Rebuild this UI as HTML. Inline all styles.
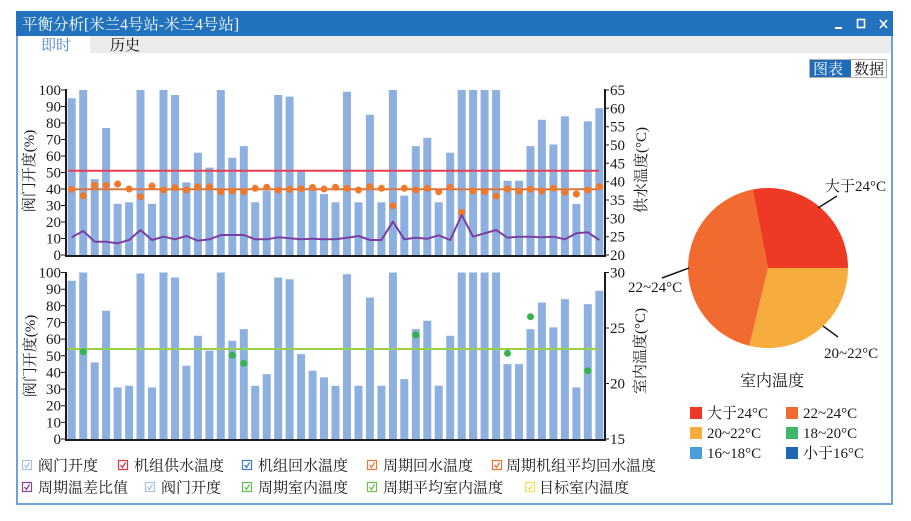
<!DOCTYPE html>
<html><head><meta charset="utf-8"><style>
html,body{margin:0;padding:0;background:#fff;}
svg{display:block;}
text{font-family:"Liberation Serif","Noto Serif CJK SC",serif;}
</style></head><body>
<svg width="911" height="521" viewBox="0 0 911 521" xmlns="http://www.w3.org/2000/svg">
<rect x="0" y="0" width="911" height="521" fill="#fff"/>
<!-- window frame -->
<rect x="17" y="12" width="875" height="492" fill="#fff" stroke="#6ea2d8" stroke-width="2"/>
<rect x="16" y="11" width="877" height="25" fill="#2372be"/>
<text x="22" y="29.5" font-size="15.5" fill="#fff">平衡分析[米兰4号站-米兰4号站]</text>
<rect x="835" y="27" width="7" height="2" fill="#fff"/>
<rect x="857.5" y="19.5" width="7" height="8" fill="none" stroke="#fff" stroke-width="1.6"/>
<path d="M880 20 L887 28 M887 20 L880 28" stroke="#fff" stroke-width="1.6"/>
<!-- tabs -->
<rect x="90" y="36" width="801" height="17" fill="#ebebeb"/>
<text x="41" y="50" font-size="15" fill="#4a86c8">即时</text>
<text x="110" y="50" font-size="15" fill="#111">历史</text>
<!-- chart/data toggle -->
<rect x="809.5" y="59.5" width="77" height="18" fill="#fff" stroke="#b0b0b0" stroke-width="1"/>
<rect x="810" y="60" width="41" height="17" fill="#1f6db8"/>
<text x="813" y="74" font-size="15" fill="#fff">图表</text>
<text x="854" y="74" font-size="15" fill="#111">数据</text>

<!-- TOP CHART bars -->
<path fill="#8db0e1" d="M67.7 98.3h8V255h-8zM79.2 90h8V255h-8zM90.7 179.1h8V255h-8zM102.1 128h8V255h-8zM113.6 203.9h8V255h-8zM125.1 202.2h8V255h-8zM136.5 90h8V255h-8zM148 203.9h8V255h-8zM159.5 90h8V255h-8zM171 95h8V255h-8zM182.4 182.4h8V255h-8zM193.9 152.7h8V255h-8zM205.4 167.6h8V255h-8zM216.8 90h8V255h-8zM228.3 157.7h8V255h-8zM239.8 146.1h8V255h-8zM251.2 202.2h8V255h-8zM262.7 190.7h8V255h-8zM274.2 95h8V255h-8zM285.6 96.6h8V255h-8zM297.1 170.9h8V255h-8zM308.6 187.4h8V255h-8zM320 194h8V255h-8zM331.5 202.2h8V255h-8zM343 91.7h8V255h-8zM354.5 202.2h8V255h-8zM365.9 114.8h8V255h-8zM377.4 202.2h8V255h-8zM388.9 90h8V255h-8zM400.3 195.6h8V255h-8zM411.8 146.1h8V255h-8zM423.3 137.9h8V255h-8zM434.7 202.2h8V255h-8zM446.2 152.7h8V255h-8zM457.7 90h8V255h-8zM469.1 90h8V255h-8zM480.6 90h8V255h-8zM492.1 90h8V255h-8zM503.5 180.8h8V255h-8zM515 180.8h8V255h-8zM526.5 146.1h8V255h-8zM537.9 119.7h8V255h-8zM549.4 144.5h8V255h-8zM560.9 116.4h8V255h-8zM572.4 203.9h8V255h-8zM583.8 121.4h8V255h-8zM595.3 108.2h8V255h-8z"/>
<!-- red supply line -->
<line x1="68" y1="170.7" x2="599" y2="170.7" stroke="#e83f52" stroke-width="2"/>
<!-- orange avg return line -->
<line x1="68" y1="189.3" x2="599" y2="189.3" stroke="#e0763a" stroke-width="2"/>
<!-- orange dots -->
<g fill="#f07828">
<circle cx="71.7" cy="189.3" r="3.5"/><circle cx="83.2" cy="195.7" r="3.5"/><circle cx="94.7" cy="185.3" r="3.5"/><circle cx="106.1" cy="185.3" r="3.5"/><circle cx="117.6" cy="184" r="3.5"/><circle cx="129.1" cy="189" r="3.5"/><circle cx="140.5" cy="196.7" r="3.5"/><circle cx="152" cy="186" r="3.5"/><circle cx="163.5" cy="190" r="3.5"/><circle cx="175" cy="187.7" r="3.5"/>
<circle cx="186.4" cy="190" r="3.5"/><circle cx="197.9" cy="186.7" r="3.5"/><circle cx="209.4" cy="186.7" r="3.5"/><circle cx="220.8" cy="191.7" r="3.5"/><circle cx="232.3" cy="191" r="3.5"/><circle cx="243.8" cy="191.7" r="3.5"/><circle cx="255.2" cy="188.3" r="3.5"/><circle cx="266.7" cy="187.3" r="3.5"/><circle cx="278.2" cy="190" r="3.5"/><circle cx="289.6" cy="189.3" r="3.5"/>
<circle cx="301.1" cy="188.7" r="3.5"/><circle cx="312.6" cy="187.5" r="3.5"/><circle cx="324" cy="189" r="3.5"/><circle cx="335.5" cy="187.3" r="3.5"/><circle cx="347" cy="188.3" r="3.5"/><circle cx="358.5" cy="190" r="3.5"/><circle cx="369.9" cy="186.7" r="3.5"/><circle cx="381.4" cy="188.3" r="3.5"/><circle cx="392.9" cy="205.7" r="3.5"/><circle cx="404.3" cy="188.3" r="3.5"/>
<circle cx="415.8" cy="190" r="3.5"/><circle cx="427.3" cy="188.3" r="3.5"/><circle cx="438.7" cy="191.7" r="3.5"/><circle cx="450.2" cy="187.3" r="3.5"/><circle cx="461.7" cy="212.3" r="3.5"/><circle cx="473.1" cy="191" r="3.5"/><circle cx="484.6" cy="191.7" r="3.5"/><circle cx="496.1" cy="196" r="3.5"/><circle cx="507.5" cy="189" r="3.5"/><circle cx="519" cy="191" r="3.5"/>
<circle cx="530.5" cy="189.3" r="3.5"/><circle cx="541.9" cy="191" r="3.5"/><circle cx="553.4" cy="188.3" r="3.5"/><circle cx="564.9" cy="192.3" r="3.5"/><circle cx="576.4" cy="194" r="3.5"/><circle cx="587.8" cy="190" r="3.5"/><circle cx="599.3" cy="186.7" r="3.5"/>
</g>
<!-- purple line -->
<polyline fill="none" stroke="#7b3fa3" stroke-width="2" stroke-linejoin="round" points="71.7,237.3 83.2,231 94.7,241.7 106.1,241.7 117.6,243.3 129.1,240 140.5,230 152,240 163.5,236.7 175,239.3 186.4,236 197.9,240.7 209.4,239.3 220.8,235 232.3,235 243.8,235 255.2,239.3 266.7,239.3 278.2,237.3 289.6,238.3 301.1,239.3 312.6,238.7 324,239.3 335.5,239.3 347,237.7 358.5,236 369.9,240 381.4,240 392.9,221.7 404.3,239.3 415.8,237.7 427.3,238.7 438.7,235.3 450.2,240 461.7,215 473.1,236.7 484.6,233.3 496.1,230 507.5,237.7 519,236.7 530.5,236.7 541.9,237.3 553.4,236.7 564.9,239.3 576.4,233.3 587.8,232.3 599.3,240"/>
<!-- top axes -->
<g stroke="#1c1c1c" stroke-width="2" fill="none">
<path d="M66 89V256H605V89"/>
<path d="M61 90h5M61 106.5h5M61 123h5M61 139.5h5M61 156h5M61 172.5h5M61 189h5M61 205.5h5M61 222h5M61 238.5h5M61 255h5" stroke-width="1"/>
<path d="M605 90h4M605 108.3h4M605 126.7h4M605 145h4M605 163.3h4M605 181.7h4M605 200h4M605 218.3h4M605 236.7h4M605 255h4" stroke-width="1"/>
</g>
<g font-size="15" fill="#1a1a1a" text-anchor="end">
<text x="61" y="95">100</text><text x="61" y="111.5">90</text><text x="61" y="128">80</text><text x="61" y="144.5">70</text><text x="61" y="161">60</text><text x="61" y="177.5">50</text><text x="61" y="194">40</text><text x="61" y="210.5">30</text><text x="61" y="227">20</text><text x="61" y="243.5">10</text><text x="61" y="260">0</text>
</g>
<g font-size="15" fill="#1a1a1a">
<text x="610" y="95">65</text><text x="610" y="113.3">60</text><text x="610" y="131.7">55</text><text x="610" y="150">50</text><text x="610" y="168.3">45</text><text x="610" y="186.7">40</text><text x="610" y="205">35</text><text x="610" y="223.3">30</text><text x="610" y="241.7">25</text><text x="610" y="260">20</text>
</g>
<text font-size="15" fill="#1a1a1a" text-anchor="middle" transform="translate(34 171) rotate(-90)">阀门开度(%)</text>
<text font-size="15" fill="#1a1a1a" text-anchor="middle" transform="translate(646 170) rotate(-90)">供水温度(°C)</text>

<!-- BOTTOM CHART bars -->
<path fill="#8db0e1" d="M67.7 280.8h8V439h-8zM79.2 272.5h8V439h-8zM90.7 362.4h8V439h-8zM102.1 310.8h8V439h-8zM113.6 387.4h8V439h-8zM125.1 385.7h8V439h-8zM136.5 273.5h8V439h-8zM148 387.4h8V439h-8zM159.5 272.5h8V439h-8zM171 277.5h8V439h-8zM182.4 365.7h8V439h-8zM193.9 335.8h8V439h-8zM205.4 350.8h8V439h-8zM216.8 272.5h8V439h-8zM228.3 340.8h8V439h-8zM239.8 329.1h8V439h-8zM251.2 385.7h8V439h-8zM262.7 374.1h8V439h-8zM274.2 277.5h8V439h-8zM285.6 279.2h8V439h-8zM297.1 354.1h8V439h-8zM308.6 370.7h8V439h-8zM320 377.4h8V439h-8zM331.5 385.7h8V439h-8zM343 274.2h8V439h-8zM354.5 385.7h8V439h-8zM365.9 297.5h8V439h-8zM377.4 385.7h8V439h-8zM388.9 272.5h8V439h-8zM400.3 379.1h8V439h-8zM411.8 329.1h8V439h-8zM423.3 320.8h8V439h-8zM434.7 385.7h8V439h-8zM446.2 335.8h8V439h-8zM457.7 272.5h8V439h-8zM469.1 272.5h8V439h-8zM480.6 272.5h8V439h-8zM492.1 272.5h8V439h-8zM503.5 364.1h8V439h-8zM515 364.1h8V439h-8zM526.5 329.1h8V439h-8zM537.9 302.5h8V439h-8zM549.4 327.4h8V439h-8zM560.9 299.1h8V439h-8zM572.4 387.4h8V439h-8zM583.8 304.1h8V439h-8zM595.3 290.8h8V439h-8z"/>
<line x1="67" y1="349" x2="599" y2="349" stroke="#9ad046" stroke-width="2"/>
<g fill="#34b34a">
<circle cx="83.2" cy="351.7" r="3.5"/><circle cx="232.3" cy="355.3" r="3.5"/><circle cx="243.8" cy="363.3" r="3.5"/><circle cx="415.8" cy="335" r="3.5"/><circle cx="507.5" cy="353.3" r="3.5"/><circle cx="530.5" cy="316.7" r="3.5"/><circle cx="587.8" cy="370.7" r="3.5"/>
</g>
<g stroke="#1c1c1c" stroke-width="2" fill="none">
<path d="M66 272V440H605V272"/>
<path d="M61 272.5h5M61 289.2h5M61 305.8h5M61 322.5h5M61 339.1h5M61 355.8h5M61 372.4h5M61 389.1h5M61 405.7h5M61 422.4h5M61 439h5" stroke-width="1"/>
<path d="M605 272.5h4M605 328h4M605 383.5h4M605 439h4" stroke-width="1"/>
</g>
<g font-size="15" fill="#1a1a1a" text-anchor="end">
<text x="61" y="277.5">100</text><text x="61" y="294.2">90</text><text x="61" y="310.8">80</text><text x="61" y="327.5">70</text><text x="61" y="344.1">60</text><text x="61" y="360.8">50</text><text x="61" y="377.4">40</text><text x="61" y="394.1">30</text><text x="61" y="410.7">20</text><text x="61" y="427.4">10</text><text x="61" y="444">0</text>
</g>
<g font-size="15" fill="#1a1a1a">
<text x="610" y="277.5">30</text><text x="610" y="333">25</text><text x="610" y="388.5">20</text><text x="610" y="444">15</text>
</g>
<text font-size="15" fill="#1a1a1a" text-anchor="middle" transform="translate(35 356) rotate(-90)">阀门开度(%)</text>
<text font-size="15" fill="#1a1a1a" text-anchor="middle" transform="translate(645 351) rotate(-90)">室内温度(°C)</text>

<!-- PIE -->
<path d="M768 268 L752.7 189.5 A80 80 0 0 1 848 268 Z" fill="#ee3a25"/>
<path d="M768 268 L848 268 A80 80 0 0 1 749.3 345.8 Z" fill="#f6ad3d"/>
<path d="M768 268 L749.3 345.8 A80 80 0 0 1 752.7 189.5 Z" fill="#f16a2f"/>
<g stroke="#1a1a1a" stroke-width="1.5">
<line x1="818" y1="208" x2="837" y2="196"/>
<line x1="689" y1="268" x2="662" y2="278"/>
<line x1="823" y1="326" x2="838" y2="337"/>
</g>
<g font-size="15" fill="#1a1a1a">
<text x="825" y="191">大于24°C</text>
<text x="628" y="292">22~24°C</text>
<text x="824" y="358">20~22°C</text>
</g>
<text x="772" y="386" font-size="16" fill="#1a1a1a" text-anchor="middle">室内温度</text>
<rect x="690" y="407" width="12" height="12" fill="#ee3a25"/>
<rect x="786" y="407" width="12" height="12" fill="#f16a2f"/>
<rect x="690" y="427" width="12" height="12" fill="#f6ad3d"/>
<rect x="786" y="427" width="12" height="12" fill="#3fb768"/>
<rect x="690" y="447" width="12" height="12" fill="#4a9fd8"/>
<rect x="786" y="447" width="12" height="12" fill="#1e67b0"/>
<g font-size="15" fill="#1a1a1a">
<text x="707" y="418">大于24°C</text>
<text x="803" y="418">22~24°C</text>
<text x="707" y="438">20~22°C</text>
<text x="803" y="438">18~20°C</text>
<text x="707" y="458">16~18°C</text>
<text x="803" y="458">小于16°C</text>
</g>

<!-- LEGEND -->
<g fill="#fff" stroke-width="1.2">
<rect x="22.5" y="460.5" width="9" height="9" stroke="#a9c1e6"/>
<rect x="118.5" y="460.5" width="9" height="9" stroke="#e8323c"/>
<rect x="242.5" y="460.5" width="9" height="9" stroke="#3c78c8"/>
<rect x="367.5" y="460.5" width="9" height="9" stroke="#f07a3c"/>
<rect x="492.5" y="460.5" width="9" height="9" stroke="#f07030"/>
<rect x="22.5" y="482.5" width="9" height="9" stroke="#9040a0"/>
<rect x="145.5" y="482.5" width="9" height="9" stroke="#a9c1e6"/>
<rect x="242.5" y="482.5" width="9" height="9" stroke="#5cc050"/>
<rect x="367.5" y="482.5" width="9" height="9" stroke="#6cc04c"/>
<rect x="525.5" y="482.5" width="9" height="9" stroke="#f0e060"/>
</g>
<g fill="none" stroke-width="1.3">
<polyline points="24.5,465 26.5,467.5 29.5,462.5" stroke="#a9c1e6"/>
<polyline points="120.5,465 122.5,467.5 125.5,462.5" stroke="#e8323c"/>
<polyline points="244.5,465 246.5,467.5 249.5,462.5" stroke="#3c78c8"/>
<polyline points="369.5,465 371.5,467.5 374.5,462.5" stroke="#f07a3c"/>
<polyline points="494.5,465 496.5,467.5 499.5,462.5" stroke="#f07030"/>
<polyline points="24.5,487 26.5,489.5 29.5,484.5" stroke="#9040a0"/>
<polyline points="147.5,487 149.5,489.5 152.5,484.5" stroke="#a9c1e6"/>
<polyline points="244.5,487 246.5,489.5 249.5,484.5" stroke="#5cc050"/>
<polyline points="369.5,487 371.5,489.5 374.5,484.5" stroke="#6cc04c"/>
<polyline points="527.5,487 529.5,489.5 532.5,484.5" stroke="#f0e060"/>
</g>
<g font-size="15" fill="#1a1a1a">
<text x="38" y="470.5">阀门开度</text>
<text x="134" y="470.5">机组供水温度</text>
<text x="258" y="470.5">机组回水温度</text>
<text x="383" y="470.5">周期回水温度</text>
<text x="506" y="470.5">周期机组平均回水温度</text>
<text x="38" y="492.5">周期温差比值</text>
<text x="161" y="492.5">阀门开度</text>
<text x="258" y="492.5">周期室内温度</text>
<text x="383" y="492.5">周期平均室内温度</text>
<text x="539" y="492.5">目标室内温度</text>
</g>
</svg>
</body></html>
